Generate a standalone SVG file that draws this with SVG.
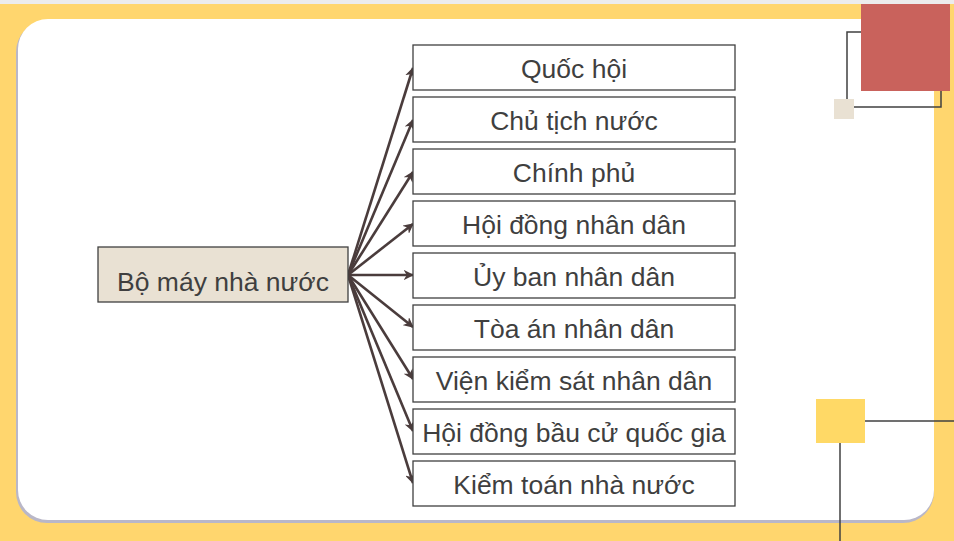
<svg xmlns="http://www.w3.org/2000/svg" width="954" height="541" viewBox="0 0 954 541">
  <defs>
    <style>
      .box { fill: #FFFFFF; stroke: #404040; stroke-width: 1.3; }
      .lbl { font-family: "Liberation Sans", Arial, sans-serif; font-size: 26.5px; fill: #3F3F3F; text-anchor: middle; }
      .conn { stroke: #4A3C3C; stroke-width: 2.6; fill: none; marker-end: url(#arr); }
      .deco { stroke: #404040; stroke-width: 1.5; fill: none; }
    </style>
    <marker id="arr" viewBox="0 0 10 10" refX="9" refY="5" markerWidth="4" markerHeight="4" orient="auto" markerUnits="strokeWidth">
      <path d="M0,0 L10,5 L0,10 L3,5 Z" fill="#4A3C3C"/>
    </marker>
  </defs>

  <!-- background -->
  <rect x="0" y="0" width="954" height="541" fill="#FFD66E"/>
  <rect x="0" y="0" width="954" height="4" fill="#ECECEC"/>
  <!-- panel shadow -->
  <rect x="16" y="21" width="918" height="502" rx="31" fill="#B9B7C8"/>
  <!-- panel -->
  <rect x="18" y="19" width="916" height="501" rx="30" fill="#FFFFFF"/>

  <!-- decorations top right -->
  <g id="deco-top">
    <path class="deco" d="M861,32 H847 V100"/>
    <path class="deco" d="M853,107 H941 V91"/>
    <rect x="861" y="4" width="89" height="87" fill="#C9625C"/>
    <rect x="834" y="99" width="20" height="20" fill="#E9E1D3"/>
  </g>
  <!-- decorations bottom right -->
  <g id="deco-bottom">
    <path class="deco" d="M865,421 H954"/>
    <path class="deco" d="M840,443 V541"/>
    <rect x="816" y="399" width="49" height="44" fill="#FFD966"/>
  </g>

  <!-- connectors -->
  <g id="connectors">
    <line class="conn" x1="348" y1="275" x2="413" y2="68"/>
    <line class="conn" x1="348" y1="275" x2="413" y2="120"/>
    <line class="conn" x1="348" y1="275" x2="413" y2="172"/>
    <line class="conn" x1="348" y1="275" x2="413" y2="224"/>
    <line class="conn" x1="348" y1="275" x2="413" y2="275"/>
    <line class="conn" x1="348" y1="275" x2="413" y2="327"/>
    <line class="conn" x1="348" y1="275" x2="413" y2="379"/>
    <line class="conn" x1="348" y1="275" x2="413" y2="431"/>
    <line class="conn" x1="348" y1="275" x2="413" y2="483"/>
  </g>

  <g id="n-root">
    <rect x="98" y="247" width="250" height="55" fill="#E9E1D3" stroke="#404040" stroke-width="1.3"/>
    <text class="lbl" x="223" y="291">Bộ máy nhà nước</text>
  </g>

  <g id="n1"><rect class="box" x="413" y="45" width="322" height="45"/><text class="lbl" x="574" y="78">Quốc hội</text></g>
  <g id="n2"><rect class="box" x="413" y="97" width="322" height="45"/><text class="lbl" x="574" y="130">Chủ tịch nước</text></g>
  <g id="n3"><rect class="box" x="413" y="149" width="322" height="45"/><text class="lbl" x="574" y="182">Chính phủ</text></g>
  <g id="n4"><rect class="box" x="413" y="201" width="322" height="45"/><text class="lbl" x="574" y="234">Hội đồng nhân dân</text></g>
  <g id="n5"><rect class="box" x="413" y="253" width="322" height="45"/><text class="lbl" x="574" y="286">Ủy ban nhân dân</text></g>
  <g id="n6"><rect class="box" x="413" y="305" width="322" height="45"/><text class="lbl" x="574" y="338">Tòa án nhân dân</text></g>
  <g id="n7"><rect class="box" x="413" y="357" width="322" height="45"/><text class="lbl" x="574" y="390">Viện kiểm sát nhân dân</text></g>
  <g id="n8"><rect class="box" x="413" y="409" width="322" height="45"/><text class="lbl" x="574" y="442">Hội đồng bầu cử quốc gia</text></g>
  <g id="n9"><rect class="box" x="413" y="461" width="322" height="45"/><text class="lbl" x="574" y="494">Kiểm toán nhà nước</text></g>
</svg>
